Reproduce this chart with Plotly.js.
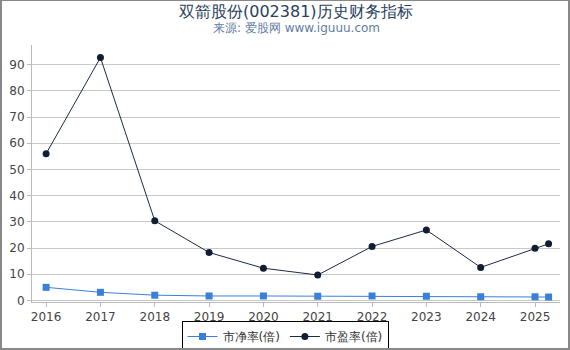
<!DOCTYPE html>
<html><head><meta charset="utf-8">
<script src="https://cdn.plot.ly/plotly-3.0.1.min.js"></script>
<style>
html,body{margin:0;padding:0;background:#fff;}
#wrap{width:570px;height:350px;box-sizing:border-box;border:2px solid #888;border-top-width:1px;overflow:hidden;}
#chart{width:566px;height:347px;}
</style></head>
<body><div id="wrap"><div id="chart"></div></div>
<script>
const years = [2016, 2017, 2018, 2019, 2020, 2021, 2022, 2023, 2024, 2025, 2025.25];
const pb = [5.0, 3.1, 2.0, 1.7, 1.7, 1.6, 1.7, 1.6, 1.4, 1.4, 1.3];
const pe = [56.0, 92.7, 30.4, 18.3, 12.3, 9.7, 20.6, 26.9, 12.6, 19.9, 21.6];
const tickYears = [2016, 2017, 2018, 2019, 2020, 2021, 2022, 2023, 2024, 2025];
const tickLabels = ["2016", "2017", "2018", "2019", "2020", "2021", "2022", "2023", "2024", "2025"];
const seriesNames = ["市净率(倍)", "市盈率(倍)"];
const titleText = '双箭股份(002381)历史财务指标';
const subtitleText = '来源: 爱股网 www.iguuu.com';

const font = 'DejaVu Sans, sans-serif';
const H = 347, T = 44, B = 46;
const plotH = H - T - B;
function paperY(px) { return (H - B - px) / plotH; }

const traces = [
  {x: years, y: pb, name: seriesNames[0], type: 'scatter', mode: 'lines+markers',
   line: {color: '#3a80d8', width: 1}, marker: {symbol: 'square', size: 7, color: '#3a80d8'}},
  {x: years, y: pe, name: seriesNames[1], type: 'scatter', mode: 'lines+markers',
   line: {color: '#1c2b45', width: 1}, marker: {symbol: 'circle', size: 7, color: '#111d33'}}
];
const layout = {
  width: 566, height: H,
  margin: {l: 30, r: 8, t: T, b: B, autoexpand: false},
  paper_bgcolor: '#fff', plot_bgcolor: '#fff',
  font: {family: font, size: 12, color: '#444'},
  annotations: [
    {text: titleText, xref: 'paper', yref: 'paper', x: 0.5, y: paperY(10), yanchor: 'middle', xanchor: 'center',
     showarrow: false, font: {family: font, size: 16, color: '#2a3f5f'}},
    {text: subtitleText, xref: 'paper', yref: 'paper', x: 0.5, y: paperY(27), yanchor: 'middle', xanchor: 'center',
     showarrow: false, font: {family: font, size: 12, color: '#5f7ca3'}}
  ],
  xaxis: {range: [2015.74, 2025.46], tickvals: tickYears, ticktext: tickLabels, showgrid: false,
          showline: true, linecolor: '#bbb', ticks: 'outside', ticklen: 4, tickcolor: '#bbb', zeroline: false,
          tickfont: {size: 12, color: '#444'}},
  yaxis: {range: [-0.6, 97.5], dtick: 10, showgrid: true, gridcolor: '#c8c8c8', showline: true, linecolor: '#bbb',
          ticks: 'outside', ticklen: 4, tickcolor: '#bbb', zeroline: false, tickfont: {size: 12, color: '#444'}},
  showlegend: true,
  legend: {orientation: 'h', x: 0.5, xanchor: 'center', xref: 'container', yref: 'paper', y: paperY(320), yanchor: 'top',
           bordercolor: '#000', borderwidth: 1, font: {size: 12, color: '#333'}, itemwidth: 30, tracegroupgap: 0}
};
Plotly.newPlot('chart', traces, layout, {displayModeBar: false, staticPlot: true});
</script></body></html>
